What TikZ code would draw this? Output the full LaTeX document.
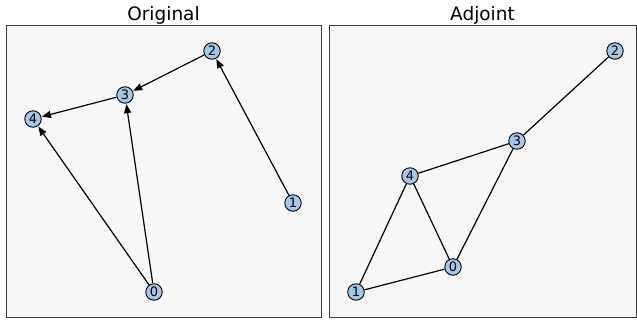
\documentclass[tikz,border=0pt]{standalone}
\usepackage{fontspec}
\setmainfont{DejaVu Sans}
\usetikzlibrary{arrows.meta}
\definecolor{panelbg}{RGB}{247,247,247}
\definecolor{panelframe}{RGB}{60,60,60}
\definecolor{nodefill}{RGB}{166,200,232}
\tikzset{
  panel/.style={draw=panelframe, fill=panelbg, line width=1pt},
  vtx/.style={circle, draw=black, fill=nodefill, line width=0.9pt, minimum size=16.5pt, inner sep=0pt, font=\fontsize{13}{13}\selectfont},
  title/.style={anchor=base, font=\fontsize{18.5}{18.5}\selectfont},
  arc/.style={line width=1.2pt, -{Triangle[length=9pt,width=7pt]}, shorten >=0.5pt},
  edge/.style={line width=1.2pt}
}
\begin{document}
\begin{tikzpicture}[x=1pt,y=-1pt]
\useasboundingbox (0,0) rectangle (637,325);
% panels
\draw[panel] (6,25) rectangle (321,317);
\draw[panel] (329,25) rectangle (636,317);
\node[title] (t1) at (163.5,20.5) {Original};
\node[title] (t2) at (482.5,20.5) {Adjoint};
% left graph
\node[vtx] (a2) at (212,51) {2};
\node[vtx] (a3) at (125,95) {3};
\node[vtx] (a4) at (33,119) {4};
\node[vtx] (a1) at (293,203) {1};
\node[vtx] (a0) at (154,292) {0};
\draw[arc] (a2) -- (a3);
\draw[arc] (a3) -- (a4);
\draw[arc] (a1) -- (a2);
\draw[arc] (a0) -- (a4);
\draw[arc] (a0) -- (a3);
% right graph
\node[vtx] (b2) at (615,51) {2};
\node[vtx] (b3) at (517,141) {3};
\node[vtx] (b4) at (410,176) {4};
\node[vtx] (b0) at (453,267) {0};
\node[vtx] (b1) at (356,292) {1};
\draw[edge] (b2) -- (b3);
\draw[edge] (b3) -- (b4);
\draw[edge] (b3) -- (b0);
\draw[edge] (b4) -- (b0);
\draw[edge] (b4) -- (b1);
\draw[edge] (b1) -- (b0);
\end{tikzpicture}
\end{document}
